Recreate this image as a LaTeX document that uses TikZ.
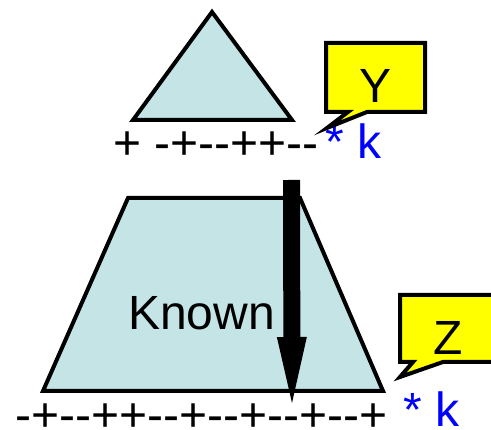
\documentclass[tikz,border=0pt]{standalone}
\usepackage{fontspec}
\setmainfont{Liberation Sans}
\usepackage{tikz}
\usetikzlibrary{arrows.meta,positioning}
\definecolor{paleblue}{HTML}{C4E4E6}
\definecolor{tipyellow}{HTML}{FFFF00}
\newcommand{\hy}{-\kern0pt}

\begin{document}
\begin{tikzpicture}[
        x=1pt, y=1pt,
        block/.style={draw, line width=4pt, line join=miter, fill=paleblue},
        bubble/.style={draw, line width=4pt, line join=miter, fill=tipyellow},
        big/.style={font=\fontsize{48}{56}\selectfont, inner sep=0pt},
        signs/.style={big, anchor=base west},
        mult/.style={big, anchor=base west, text=blue},
        bigarrow/.style={line width=17pt, -{Triangle[width=30pt, length=66pt, line width=0pt]}}
    ]
        \clip (0,0) rectangle (491,430);

        % upper triangle and its signs
        \draw[block] (212,418) -- (292,310) -- (133,310) -- cycle;
        \node[signs] (topsigns) at (113,270) {+ \hy+\hy\hy++\hy\hy};
        \node[mult] (topk) at (325,271) {* k};
        \draw[bubble] (326,387) -- (425,387) -- (425,318) -- (367,318) -- (327,302) -- (348,318) -- (326,318) -- cycle;
        \node[big, anchor=base] (ylabel) at (376,327) {Y};

        % lower trapezoid
        \draw[block] (43,39) -- (383,39) -- (300,232) -- (128,232) -- cycle;
        \node[signs] (known) at (128,100) {Known};
        \node[signs] (botsigns) at (15,-2) {\hy+\hy\hy++\hy\hy+\hy\hy+\hy\hy+\hy\hy+};
        \node[mult] (botk) at (403,3) {* k};
        \draw[bubble] (400,135) -- (500,135) -- (500,68) -- (443,68) -- (400,53) -- (413,68) -- (400,68) -- cycle;
        \node[big, anchor=base] (zlabel) at (448,75) {Z};

        % the heavy arrow
        \coordinate (arrtop) at (291.5,250);
        \coordinate (arrtip) at (292,27);
        \draw[bigarrow] (arrtop) -- (arrtip);
    \end{tikzpicture}
\end{document}
